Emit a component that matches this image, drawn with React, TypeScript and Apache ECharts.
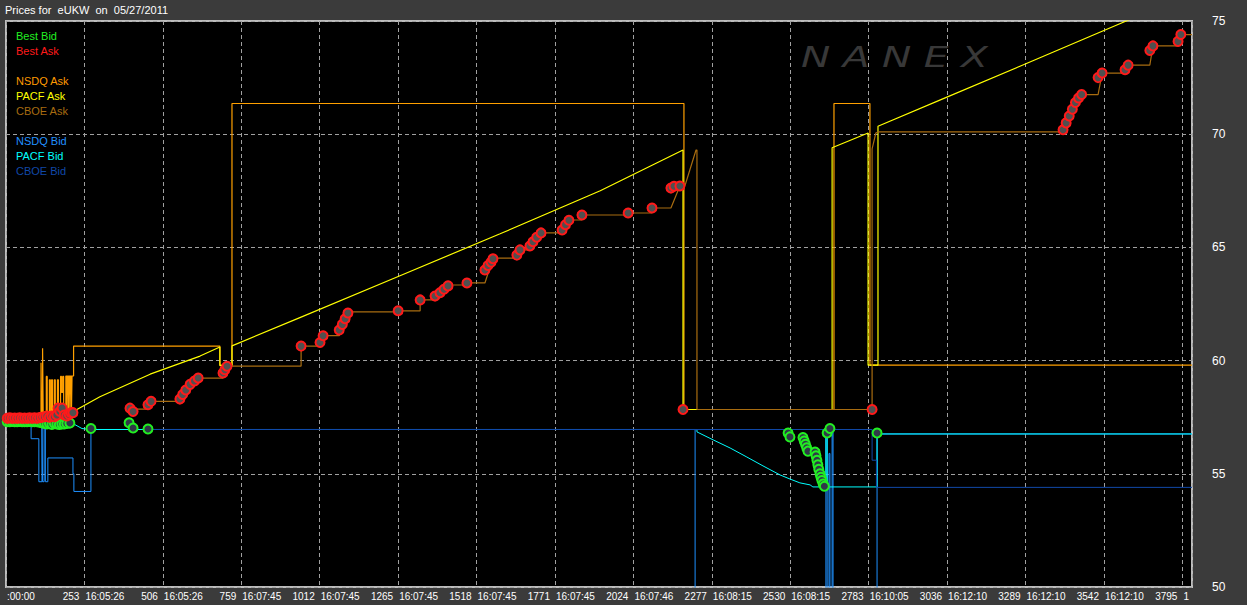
import React, { useEffect, useRef } from "react";
import * as echarts from "echarts";

// ---------- tick labels ----------
const xTickNumbers = ["", "253", "506", "759", "1012", "1265", "1518", "1771", "2024", "2277", "2530", "2783", "3036", "3289", "3542", "3795"];
const xTickTimes = [":00:00", "16:05:26", "16:05:26", "16:07:45", "16:07:45", "16:07:45", "16:07:45", "16:07:45", "16:07:46", "16:08:15", "16:08:15", "16:10:05", "16:12:10", "16:12:10", "16:12:10", "1"];

// ---------- legend ----------
const legendNames = ["Best Bid", "Best Ask", "NSDQ Ask", "PACF Ask", "CBOE Ask", "NSDQ Bid", "PACF Bid", "CBOE Bid"];
const legendColors = ["#22ee22", "#ff1a1a", "#ff9900", "#ffff00", "#a86c10", "#2090ff", "#00ffff", "#1048a8"];
const legendRows = [0, 1, 3, 4, 5, 7, 8, 9];

// ---------- series data: [index, price] ----------
const nsdqBid = [
  [0, 57.3], [55, 57.3], [55, 57.1], [81, 57.1], [81, 56.55], [106, 56.55], [106, 54.65], [116, 54.65], [116, 57.1], [118, 57.1], [118, 54.65],
  [123, 54.65], [123, 57.1], [127, 57.1], [127, 54.65], [135, 54.65], [135, 55.7], [216, 55.7], [216, 55.0], [219, 55.0], [219, 54.22],
  [274, 54.22], [274, 56.957], [2223, 56.957], [2223, 0], [2645, 0], [2645, 56.8], [2649, 56.8], [2649, 0], [2655, 0], [2655, 55.9],
  [2658, 55.9], [2658, 0], [2665, 0], [2665, 57.0], [2668, 57.0], [2668, 0], [2810, 0], [2810, 56.76], [3826, 56.76],
];

const pacfBid = [
  [0, 57.3], [206, 57.3], [216, 57.22], [245, 57.0], [271, 56.957], [2229, 56.957], [2229, 56.85], [2281, 56.5], [2336, 56.14],
  [2390, 55.74], [2442, 55.35], [2497, 54.95], [2529, 54.77], [2561, 54.6], [2594, 54.51], [2603, 54.42], [2645, 54.42],
  [2645, 56.8], [2649, 56.8], [2649, 54.42], [2810, 54.42], [2810, 56.76], [3826, 56.76],
];

const cboeBid = [
  [465, 56.957], [2794, 56.957], [2794, 55.6], [2808, 55.6], [2808, 54.4], [3826, 54.4],
];

const nsdqAsk = [
  [0, 57.6], [113, 57.6], [113, 59.9], [115, 59.9], [115, 57.6], [118, 57.6], [118, 60.55], [120, 60.55], [120, 57.6],
  [130, 57.6], [130, 59.3], [133, 59.3], [133, 57.6], [140, 57.6], [140, 59.15], [143, 59.15], [143, 57.6],
  [147, 57.6], [147, 59.15], [150, 59.15], [150, 57.6], [156, 57.6], [156, 59.15], [159, 59.15], [159, 57.6],
  [166, 57.6], [166, 59.15], [169, 59.15], [169, 57.6], [176, 57.6], [176, 59.3], [179, 59.3], [179, 58.6],
  [183, 58.6], [183, 59.3], [186, 59.3], [186, 57.6], [193, 57.6], [193, 59.32], [196, 59.32], [196, 57.6],
  [198, 57.6], [198, 59.32], [201, 59.32], [201, 57.6], [203, 57.6], [203, 59.32], [206, 59.32], [206, 57.6],
  [208, 57.6], [208, 59.32], [211, 59.32], [211, 57.6], [213, 57.6], [213, 59.32], [218, 59.32], [218, 60.64],
  [690, 60.64], [690, 59.8], [729, 59.8], [729, 71.356], [2187, 71.356], [2187, 57.84], [2671, 57.84],
  [2671, 71.356], [2787, 71.356], [2787, 59.8], [3826, 59.8],
];

const pacfAsk = [
  [165, 57.55], [168, 57.9], [181, 57.6], [213, 57.7], [223, 57.8], [303, 58.4], [465, 59.4], [626, 60.2], [690, 60.6],
  [690, 59.78], [729, 59.78], [729, 60.65], [948, 61.9], [1271, 63.75], [1594, 65.6], [1917, 67.5], [2184, 69.3],
  [2184, 57.84], [2665, 57.84], [2665, 69.4], [2781, 70.05], [2781, 59.8], [2813, 59.8], [2813, 70.35],
  [3020, 71.55], [3271, 73.0], [3610, 74.98], [3794, 76.05],
];

const cboeAsk = [
  [400, 57.9], [410, 57.86], [458, 57.86], [468, 58.2], [555, 58.2], [561, 58.3], [580, 58.7], [594, 58.95], [620, 59.23],
  [700, 59.23], [713, 59.76], [952, 59.76], [952, 60.64], [1013, 60.64], [1023, 61.1], [1075, 61.1], [1103, 62.15],
  [1265, 62.15], [1265, 62.2], [1336, 62.2], [1336, 62.68], [1384, 62.68], [1426, 63.34], [1487, 63.34], [1487, 63.43],
  [1545, 63.43], [1571, 64.53], [1648, 64.53], [1658, 64.89], [1690, 64.89], [1726, 65.64], [1794, 65.64], [1816, 66.21],
  [1858, 66.21], [1858, 66.43], [2007, 66.43], [2007, 66.52], [2084, 66.52], [2084, 66.74], [2145, 66.74], [2174, 67.71],
  [2190, 67.71], [2226, 69.3], [2229, 69.3], [2229, 57.84], [2794, 57.84], [2794, 69.35], [2806, 70.05], [2813, 70.1],
  [3410, 70.1], [3470, 71.75], [3523, 71.75], [3536, 72.7], [3610, 72.7], [3620, 73.05], [3690, 73.05], [3700, 73.9],
  [3781, 73.9], [3790, 74.4], [3826, 74.4],
];

const bestBid = [
  [4, 57.3], [12, 57.3], [20, 57.31], [28, 57.3], [36, 57.3], [44, 57.31], [52, 57.3], [60, 57.3], [68, 57.3], [76, 57.31],
  [84, 57.3], [92, 57.3], [100, 57.3], [108, 57.28], [116, 57.25], [124, 57.22], [132, 57.2], [140, 57.22], [148, 57.18],
  [156, 57.22], [164, 57.2], [172, 57.18], [180, 57.2], [188, 57.2], [196, 57.22], [206, 57.24],
  [274, 57.0], [397, 57.25], [410, 57.02], [458, 56.98],
  [2523, 56.8], [2529, 56.63],
  [2571, 56.6], [2575, 56.45], [2579, 56.3], [2583, 56.15], [2587, 56.0],
  [2610, 55.96], [2613, 55.8], [2616, 55.6], [2619, 55.4], [2622, 55.2], [2626, 55.0], [2629, 54.85], [2632, 54.7],
  [2636, 54.55], [2640, 54.45],
  [2649, 56.8], [2658, 57.0], [2810, 56.8],
];

const bestAsk = [
  [4, 57.45], [12, 57.47], [20, 57.45], [28, 57.46], [36, 57.45], [44, 57.47], [52, 57.45], [60, 57.46], [68, 57.45],
  [76, 57.47], [84, 57.45], [92, 57.47], [100, 57.45], [108, 57.48], [116, 57.5], [124, 57.52], [132, 57.55], [140, 57.5],
  [148, 57.55], [156, 57.52], [164, 57.6], [168, 57.9], [174, 57.75], [181, 57.9], [188, 57.6], [196, 57.55], [204, 57.62],
  [210, 57.7], [216, 57.7],
  [400, 57.9], [410, 57.75], [458, 58.05], [468, 58.2], [561, 58.3], [570, 58.5], [580, 58.7], [594, 58.95], [608, 59.1],
  [620, 59.23], [700, 59.45], [706, 59.6], [713, 59.75], [952, 60.64], [1013, 60.8], [1023, 61.1], [1075, 61.35],
  [1085, 61.6], [1094, 61.85], [1103, 62.1], [1265, 62.2], [1336, 62.68], [1384, 62.85], [1400, 63.0], [1413, 63.15],
  [1426, 63.3], [1487, 63.43], [1545, 64.0], [1555, 64.2], [1565, 64.35], [1571, 64.5], [1648, 64.66], [1658, 64.89],
  [1690, 65.06], [1700, 65.25], [1712, 65.45], [1726, 65.64], [1794, 65.77], [1805, 66.0], [1816, 66.2], [1858, 66.43],
  [2007, 66.52], [2084, 66.74], [2145, 67.62], [2155, 67.7], [2174, 67.71], [2184, 57.84], [2794, 57.84],
  [3410, 70.2], [3420, 70.5], [3430, 70.8], [3440, 71.1], [3450, 71.4], [3460, 71.6], [3470, 71.75],
  [3523, 72.5], [3536, 72.7], [3610, 72.85], [3620, 73.05], [3690, 73.7], [3700, 73.9], [3781, 74.1], [3790, 74.4],
];

const FONT = '"Liberation Sans", Arial, sans-serif';
const X_MAX = 3826;
const X_STEP = 253;

function tickIndex(value: number): number {
  const i = Math.round(value / X_STEP);
  if (Math.abs(value - i * X_STEP) > 1 || i >= xTickNumbers.length) return -1;
  return i;
}

function lineSeries(name: string, data: number[][], color: string, z: number, width = 1) {
  return {
    type: "line",
    name,
    data,
    symbol: "none",
    showSymbol: false,
    silent: true,
    clip: true,
    z,
    lineStyle: { color, width },
  };
}

export default function App() {
  const ref = useRef<HTMLDivElement>(null);

  useEffect(() => {
    if (!ref.current) return;
    const chart = echarts.init(ref.current, undefined, { renderer: "svg" });

    const graphic: any[] = [
      {
        type: "text",
        x: 5,
        y: 10,
        z: 10,
        style: {
          text: "Prices for  eUKW  on  05/27/2011",
          fill: "#ffffff",
          font: `11px ${FONT}`,
          verticalAlign: "middle",
        },
      },
      {
        type: "text",
        x: 801,
        y: 57,
        scaleX: 1.4,
        z: 1,
        style: {
          text: "N A N E X",
          fill: "#383838",
          font: 'italic 28px "DejaVu Sans", sans-serif',
          verticalAlign: "middle",
        },
      },
    ];
    legendNames.forEach((name, i) => {
      graphic.push({
        type: "text",
        x: 16,
        y: 36 + legendRows[i] * 15,
        z: 10,
        style: {
          text: name,
          fill: legendColors[i],
          font: `11px ${FONT}`,
          verticalAlign: "middle",
        },
      });
    });

    const dashed = { show: true, lineStyle: { color: "#a0a0a0", width: 1, type: [4, 3] } };

    const option: any = {
      animation: false,
      backgroundColor: "#3b3b3b",
      grid: {
        left: 6,
        right: 55,
        top: 21,
        bottom: 18,
        show: true,
        backgroundColor: "#000000",
        borderColor: "#bdbdbd",
        borderWidth: 2,
      },
      xAxis: [
        {
          type: "value",
          min: 0,
          max: X_MAX,
          interval: X_STEP,
          axisLine: { show: false },
          axisTick: { show: false },
          splitLine: dashed,
          axisLabel: {
            margin: 4,
            align: "right",
            padding: [0, 5, 0, 0],
            color: "#ffffff",
            fontSize: 10,
            fontFamily: FONT,
            formatter: (value: number) => {
              const i = tickIndex(value);
              return i < 0 ? "" : xTickNumbers[i];
            },
          },
        },
        {
          type: "value",
          min: 0,
          max: X_MAX,
          interval: X_STEP,
          position: "bottom",
          axisLine: { show: false },
          axisTick: { show: false },
          splitLine: { show: false },
          axisLabel: {
            margin: 4,
            align: "left",
            padding: [0, 0, 0, 1],
            color: "#ffffff",
            fontSize: 10,
            fontFamily: FONT,
            formatter: (value: number) => {
              const i = tickIndex(value);
              return i < 0 ? "" : xTickTimes[i];
            },
          },
        },
      ],
      yAxis: {
        type: "value",
        position: "right",
        min: 50,
        max: 75,
        interval: 5,
        axisLine: { show: false },
        axisTick: { show: false },
        splitLine: dashed,
        axisLabel: {
          margin: 20,
          color: "#ffffff",
          fontSize: 12,
          fontFamily: FONT,
          align: "left",
        },
      },
      graphic,
      series: [
        lineSeries("NSDQ Bid", nsdqBid, "#1e90ff", 2),
        lineSeries("PACF Bid", pacfBid, "#00ffff", 3),
        lineSeries("CBOE Bid", cboeBid, "#1048a8", 4),
        lineSeries("NSDQ Ask", nsdqAsk, "#ffa000", 5, 1.2),
        lineSeries("PACF Ask", pacfAsk, "#ffff00", 6, 1.2),
        lineSeries("CBOE Ask", cboeAsk, "#a86c10", 7, 1.2),
        {
          type: "scatter",
          name: "Best Bid",
          data: bestBid,
          symbol: "circle",
          symbolSize: 9,
          silent: true,
          z: 8,
          itemStyle: { color: "#303848", borderColor: "#22ee22", borderWidth: 2, opacity: 1 },
        },
        {
          type: "scatter",
          name: "Best Ask",
          data: bestAsk,
          symbol: "circle",
          symbolSize: 9,
          silent: true,
          z: 9,
          itemStyle: { color: "#505050", borderColor: "#ff1a1a", borderWidth: 2, opacity: 1 },
        },
      ],
    };

    chart.setOption(option);
    return () => chart.dispose();
  }, []);

  return (
    <div
      ref={ref}
      style={{ position: "fixed", left: 0, top: 0, width: 1247, height: 605, background: "#3b3b3b" }}
    />
  );
}
